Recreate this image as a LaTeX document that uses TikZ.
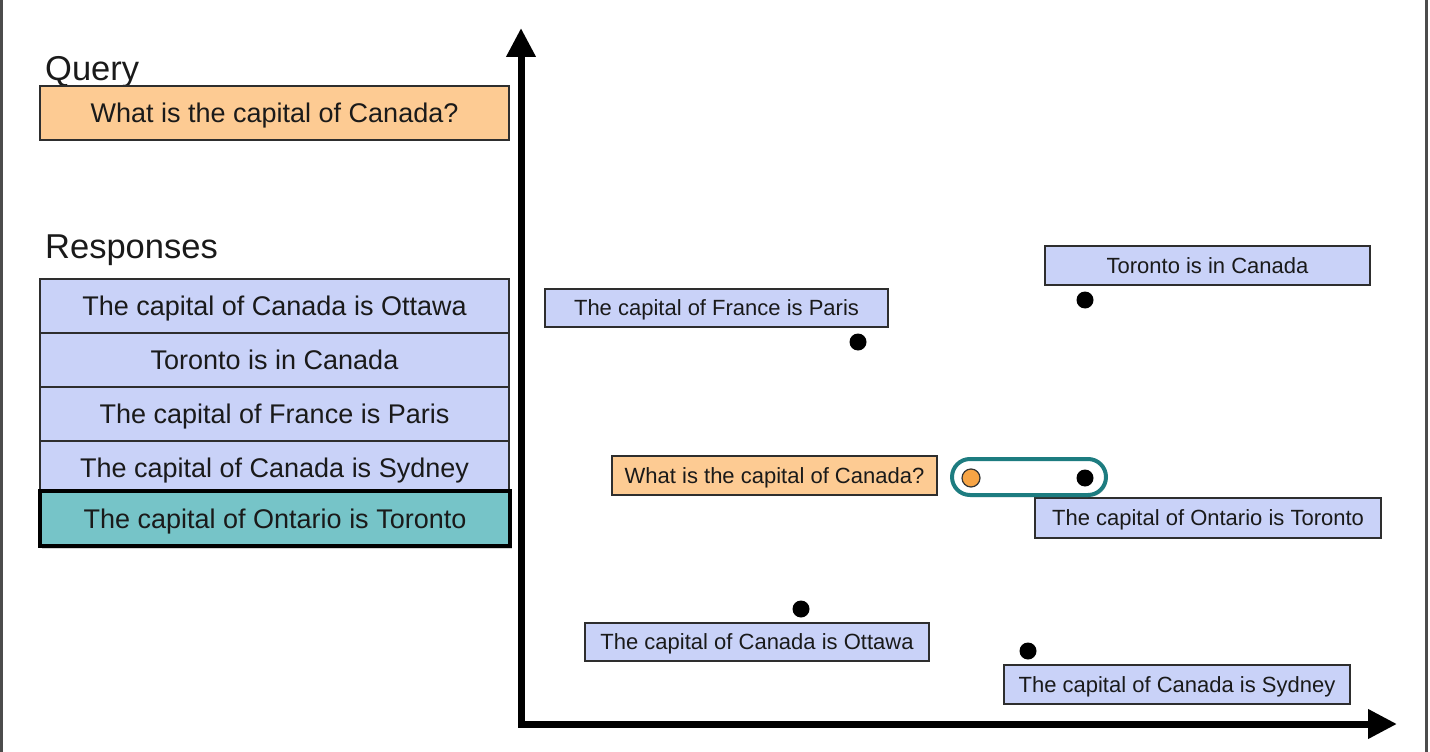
\documentclass[tikz,border=0pt]{standalone}
\usepackage{fontspec}
\setmainfont{Liberation Sans}
\usetikzlibrary{arrows.meta,shadows}
\definecolor{boxblue}{HTML}{C9D2F8}
\definecolor{boxorange}{HTML}{FDCB93}
\definecolor{boxteal}{HTML}{76C4C8}
\definecolor{pillteal}{HTML}{1D7C80}
\definecolor{dotorange}{HTML}{F7A445}
\definecolor{txt}{HTML}{1A1A1A}
\definecolor{edge}{HTML}{2E2E2E}
\tikzset{
  bigbox/.style={draw=edge, line width=1.8pt, inner sep=0pt, text=txt, text height=19.5pt, text depth=0pt,
    font=\fontsize{27}{32}\selectfont, minimum width=469pt, minimum height=54pt},
  smallbox/.style={draw=edge, line width=1.8pt, fill=boxblue, inner sep=0pt, text=txt,
    text height=15.9pt, text depth=0pt, font=\fontsize{22}{26}\selectfont},
  heading/.style={anchor=base west, inner sep=0pt, text=txt, font=\fontsize{34.5}{40}\selectfont},
  blackdot/.style={circle, fill=black, minimum size=17pt, inner sep=0pt},
  orangedot/.style={circle, fill=dotorange, draw=black!80, line width=1.2pt, minimum size=18pt, inner sep=0pt},
  axis/.style={line width=7pt, {Triangle[length=29pt,width=28pt]}-{Triangle[length=29pt,width=28pt]}},
  frame/.style={line width=2.5pt, draw=black!70},
}
\begin{document}
\begin{tikzpicture}[x=1pt,y=-1pt]
\useasboundingbox (0,0) rectangle (1430,752);
% frame edges
\coordinate (fl1) at (1.5,0); \coordinate (fl2) at (1.5,752);
\coordinate (fr1) at (1426.5,0); \coordinate (fr2) at (1426.5,752);
\draw[frame] (fl1) -- (fl2);
\draw[frame] (fr1) -- (fr2);
% headings
\node[heading] (qlabel) at (45,81) {Query};
\node[heading] (rlabel) at (45,258) {Responses};
% query box
\node[bigbox, fill=boxorange] (query) at (274.5,113) {What is the capital of Canada?};
% responses
\node[bigbox, fill=boxblue] (r1) at (274.5,306) {The capital of Canada is Ottawa};
\node[bigbox, fill=boxblue] (r2) at (274.5,360) {Toronto is in Canada};
\node[bigbox, fill=boxblue] (r3) at (274.5,414) {The capital of France is Paris};
\node[bigbox, fill=boxblue] (r4) at (274.5,468) {The capital of Canada is Sydney};
\node[bigbox, fill=boxteal, draw=black, line width=4.5pt, minimum width=470pt, minimum height=55pt,
  drop shadow={opacity=0.35, shadow xshift=2pt, shadow yshift=-3pt}] (r5) at (275,518.5) {The capital of Ontario is Toronto};
% axes
\coordinate (ytop) at (521,28);
\coordinate (origin) at (521,724);
\coordinate (xend) at (1397,724);
\draw[axis, line join=miter] (ytop) -- (origin) -- (xend);
% embedding boxes
\node[smallbox, minimum width=325pt, minimum height=39pt] (etoronto) at (1207.5,265.5) {Toronto is in Canada};
\node[smallbox, minimum width=343pt, minimum height=38pt] (efrance) at (716.5,308) {The capital of France is Paris};
\node[smallbox, fill=boxorange, minimum width=325pt, minimum height=39pt] (equery) at (774.5,475.5) {What is the capital of Canada?};
\node[smallbox, minimum width=346pt, minimum height=40pt] (eontario) at (1208,518) {The capital of Ontario is Toronto};
\node[smallbox, minimum width=344pt, minimum height=38pt] (eottawa) at (757,642) {The capital of Canada is Ottawa};
\node[smallbox, minimum width=346pt, minimum height=39pt] (esydney) at (1177,684.5) {The capital of Canada is Sydney};
% pill
\node[draw=pillteal, line width=4pt, rounded corners=18pt, minimum width=154pt, minimum height=36pt,
  inner sep=0pt, drop shadow={opacity=0.25, shadow xshift=1.5pt, shadow yshift=-2pt}, fill=white] (pill) at (1029,477) {};
% dots
\node[blackdot] (dtoronto) at (1085,300) {};
\node[blackdot] (dfrance) at (858,342) {};
\node[blackdot] (dontario) at (1085,478) {};
\node[orangedot] (dquery) at (971,478) {};
\node[blackdot] (dottawa) at (801,609) {};
\node[blackdot] (dsydney) at (1028,651) {};
\end{tikzpicture}
\end{document}
